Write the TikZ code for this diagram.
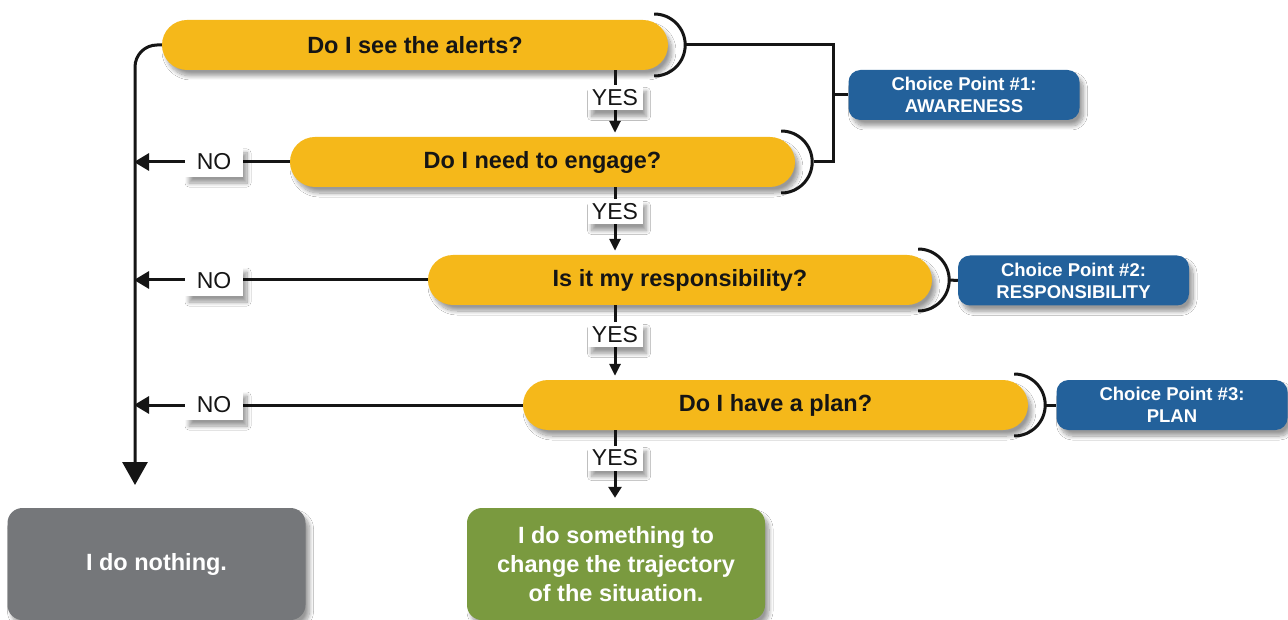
\documentclass[tikz,border=0pt]{standalone}
\usepackage{fontspec}
\setmainfont{Liberation Sans}
\usetikzlibrary{arrows.meta,shadows.blur}
\definecolor{yel}{HTML}{F5B81A}
\definecolor{blu}{HTML}{23619B}
\definecolor{gry}{HTML}{75777A}
\definecolor{grn}{HTML}{7A9A3F}
\definecolor{ink}{HTML}{151515}
\begin{document}
\begin{tikzpicture}[x=1pt,y=-1pt,
  shad/.style={blur shadow={shadow xshift=4pt,shadow yshift=-6pt,shadow blur radius=4pt,shadow blur steps=10,shadow opacity=40}},
  pill/.style={shad,fill=yel,rounded corners=25pt,minimum height=50pt,inner sep=0pt,
    font=\bfseries\fontsize{23.5}{27}\selectfont,text=ink},
  cpbox/.style={shad,fill=blu,rounded corners=12pt,minimum width=231pt,minimum height=50pt,inner sep=0pt,
    text=white,align=center,font=\bfseries\fontsize{18.5}{22}\selectfont},
  endbox/.style={shad,rounded corners=15pt,minimum width=298pt,minimum height=112pt,inner sep=0pt,
    text=white,align=center,font=\bfseries\fontsize{23.5}{29}\selectfont},
  lbl/.style={shad,fill=white,inner sep=0pt,font=\fontsize{23}{27}\selectfont,text=ink},
  ln/.style={line width=3pt,draw=ink},
  noarrow/.style={ln,-{Triangle[width=17pt,length=15pt]}},
  yesarrow/.style={ln,-{Triangle[width=11pt,length=12pt]},shorten >=4pt}
]
\clip (0,0) rectangle (1288,620);
\fill[white] (0,0) rectangle (1288,620);

% question pills
\node[pill,minimum width=506pt] (p1) at (415,45) {Do I see the alerts?};
\node[pill,minimum width=505pt] (p2) at (542.5,162) {Do I need to engage?};
\node[pill,minimum width=504pt] (p3) at (680,280) {Is it my responsibility?};
\node[pill,minimum width=505pt] (p4) at (775.5,405) {Do I have a plan?};

% choice point boxes
\node[cpbox] (c1) at (964,95) {Choice Point \#1:\\AWARENESS};
\node[cpbox] (c2) at (1073.5,280.5) {Choice Point \#2:\\RESPONSIBILITY};
\node[cpbox] (c3) at (1172,405) {Choice Point \#3:\\PLAN};

% outcome boxes
\node[endbox,fill=gry] (nothing) at (156.5,564) {I do nothing.};
\node[endbox,fill=grn] (something) at (616,564) {I do something to\\change the trajectory\\of the situation.};

% helper coordinates
\coordinate (mid) at (615,0);
\coordinate (lx) at (135,485);
\coordinate (j1) at (833,95);

% brackets
\foreach \p in {p1,p2,p3,p4}
  \draw[ln] ([xshift=-14pt,yshift=31pt]\p.east) arc[start angle=90,end angle=-90,radius=31pt];
\coordinate (b1) at ([xshift=17pt]p1.east);
\coordinate (b2) at ([xshift=19pt]p2.east);
\coordinate (b3) at ([xshift=17pt]p3.east);
\coordinate (b4) at ([xshift=17pt]p4.east);
\draw[ln] (b1) -| (j1) |- (b2);
\draw[ln] (j1) -- (c1.west);
\draw[ln] (b3) -- (c2.west);
\draw[ln] (b4) -- (c3.west);

% NO path
\draw[ln,rounded corners=22pt,-{Triangle[width=25pt,length=23pt]}] (p1.west) -| (lx);
\foreach \p in {p2,p3,p4}
  \draw[noarrow,shorten >=-1pt] (\p.west) -- (\p.west -| lx);

% YES path
\draw[yesarrow] (p1.south -| mid) -- (p2.north -| mid);
\draw[yesarrow] (p2.south -| mid) -- (p3.north -| mid);
\draw[yesarrow] (p3.south -| mid) -- (p4.north -| mid);
\draw[ln,-{Triangle[width=13pt,length=11pt]},shorten >=10pt] (p4.south -| mid) -- (something.north -| mid);

% labels
\node[lbl,minimum width=55pt,minimum height=25pt] (y1) at (615,98) {YES};
\node[lbl,minimum width=55pt,minimum height=25pt] (y2) at (615,212) {YES};
\node[lbl,minimum width=55pt,minimum height=25pt] (y3) at (615,335) {YES};
\node[lbl,minimum width=55pt,minimum height=25pt] (y4) at (615,458) {YES};
\node[lbl,minimum width=58pt,minimum height=30pt] (n2) at (214,162) {NO};
\node[lbl,minimum width=58pt,minimum height=30pt] (n3) at (214,281) {NO};
\node[lbl,minimum width=58pt,minimum height=30pt] (n4) at (214,405) {NO};
\end{tikzpicture}
\end{document}
